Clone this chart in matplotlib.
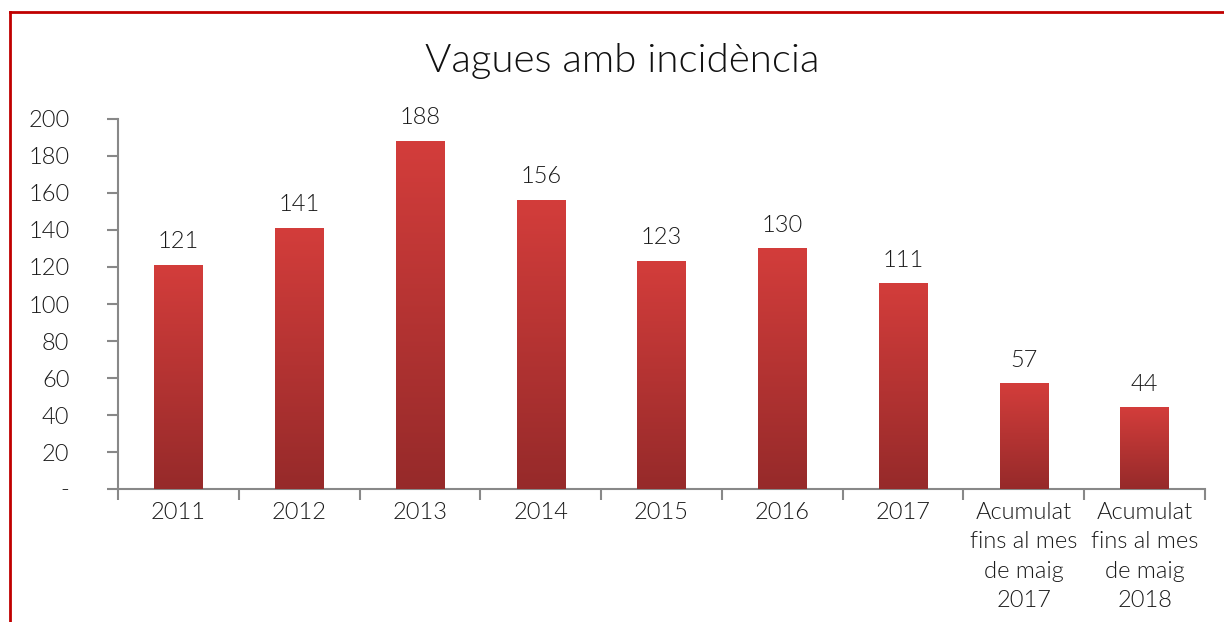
import matplotlib
matplotlib.use('Agg')
import matplotlib.pyplot as plt
from matplotlib.lines import Line2D
from matplotlib.colors import LinearSegmentedColormap
import numpy as np

categorias = ['2011', '2012', '2013', '2014', '2015', '2016', '2017',
              'Acumulat\nfins al mes\nde maig\n2017',
              'Acumulat\nfins al mes\nde maig\n2018']
vagues = [121, 141, 188, 156, 123, 130, 111, 57, 44]
y_ticks = [0, 20, 40, 60, 80, 100, 120, 140, 160, 180, 200]
y_labels = ['-'] + [str(t) for t in y_ticks[1:]]

plt.rcParams['font.family'] = ['Lato', 'DejaVu Sans']
plt.rcParams['font.weight'] = 300

fig = plt.figure(figsize=(12.24, 6.22), dpi=100)
ax = fig.add_axes([0.0964, 0.2138, 0.8881, 0.5949])

# vora vermella de la figura
fig.add_artist(Line2D([0.008, 1.0], [0.980, 0.980], color='#c00000', lw=2))
fig.add_artist(Line2D([0.008, 0.008], [0.0, 0.980], color='#c00000', lw=2))

x = np.arange(len(categorias))
amplada = 0.4
bars = ax.bar(x, vagues, width=amplada, color='#b83232', zorder=2)

# degradat vertical dins de cada barra
grad = np.linspace(0, 1, 256).reshape(-1, 1)
cmap = LinearSegmentedColormap.from_list('vermell', ['#962a2a', '#d33d3b'])
for b in bars:
    x0 = b.get_x()
    h = b.get_height()
    ax.imshow(grad, extent=(x0, x0 + amplada, 0, h), origin='lower',
              aspect='auto', cmap=cmap, zorder=3)

for xi, v in zip(x, vagues):
    ax.text(xi, v + 7, str(v), ha='center', va='bottom', fontsize=17,
            color='#1a1a1a')

ax.set_xlim(-0.5, len(categorias) - 0.5)
ax.set_ylim(0, 200)
ax.set_yticks(y_ticks)
ax.set_yticklabels(y_labels)
ax.set_xticks(x)
ax.set_xticklabels(categorias, linespacing=1.5)
ax.set_xticks(np.arange(-0.5, len(categorias)), minor=True)

ax.tick_params(axis='y', length=8, width=1.5, color='#888888', pad=27,
               labelsize=17, labelcolor='#1a1a1a')
ax.tick_params(axis='x', which='major', length=0, pad=9,
               labelsize=17, labelcolor='#1a1a1a')
ax.tick_params(axis='x', which='minor', length=8, width=1.5, color='#888888')

for s in ['top', 'right']:
    ax.spines[s].set_visible(False)
for s in ['left', 'bottom']:
    ax.spines[s].set_color('#888888')
    ax.spines[s].set_linewidth(1.5)

fig.text(0.508, 0.902, 'Vagues amb incidència', ha='center', va='center',
         fontsize=29, color='#111111')

fig.savefig('out.png', dpi=100)
